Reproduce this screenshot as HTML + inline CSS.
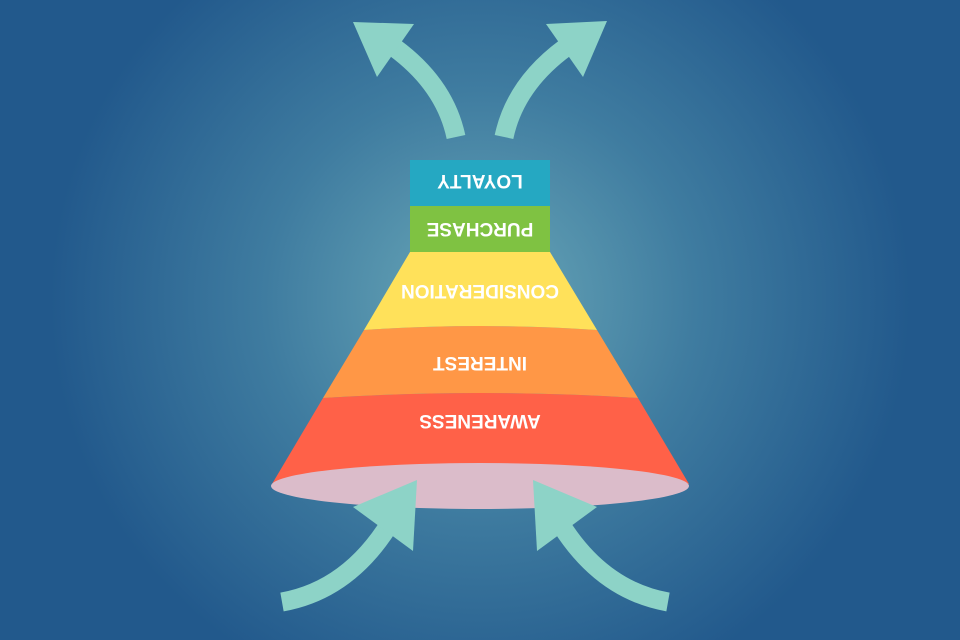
<!DOCTYPE html>
<html><head><style>
html,body{margin:0;padding:0;}
body{width:960px;height:640px;overflow:hidden;background:radial-gradient(ellipse 430px 420px at 480px 300px,#6aa8b8 0%,#3f7ca0 50%,#22598c 100%);}
svg{display:block}
text{font-family:"Liberation Sans",sans-serif;font-weight:bold;fill:#fff;text-anchor:middle;}
</style></head><body>
<svg width="960" height="640" viewBox="0 0 960 640">
<!-- funnel bands -->
<path d="M272,484 L323,398 Q480,388 638,398 L689,484 Z" fill="#ff6148"/>
<path d="M323,398 L364,330 Q480,322 597,330 L638,398 Q480,388 323,398 Z" fill="#ff9746"/>
<path d="M364,330 L410,252 L550,252 L597,330 Q480,322 364,330 Z" fill="#ffe15a"/>
<rect x="410" y="206" width="140" height="46" fill="#7fc242"/>
<rect x="410" y="160" width="140" height="46" fill="#25a8c2"/>
<ellipse cx="480" cy="486" rx="209" ry="23" fill="#dbbcca"/>
<g transform="rotate(180 480 182)"><text x="480" y="189" font-size="19">LOYALTY</text></g>
<g transform="rotate(180 480 230)"><text x="480" y="237" font-size="19">PURCHASE</text></g>
<g transform="rotate(180 480 292)"><text x="480" y="299" font-size="19">CONSIDERATION</text></g>
<g transform="rotate(180 480 364)"><text x="480" y="371" font-size="19">INTEREST</text></g>
<g transform="rotate(180 480 422)"><text x="480" y="429" font-size="19">AWARENESS</text></g>
<!-- arrows -->
<g fill="none" stroke="#8dd3c7" stroke-width="19">
<path d="M456,137 Q445,85 395,48"/>
<path d="M504,137 Q515,85 565,48"/>
<path d="M282,602 Q350,590 392,520"/>
<path d="M668,602 Q600,590 558,520"/>
</g>
<g fill="#8dd3c7">
<polygon points="353,22 414,24 377,77"/>
<polygon points="607,21 546,24 583,77"/>
<polygon points="417,480 353,507 413,551"/>
<polygon points="533,480 597,507 537,551"/>
</g>
</svg>
</body></html>
